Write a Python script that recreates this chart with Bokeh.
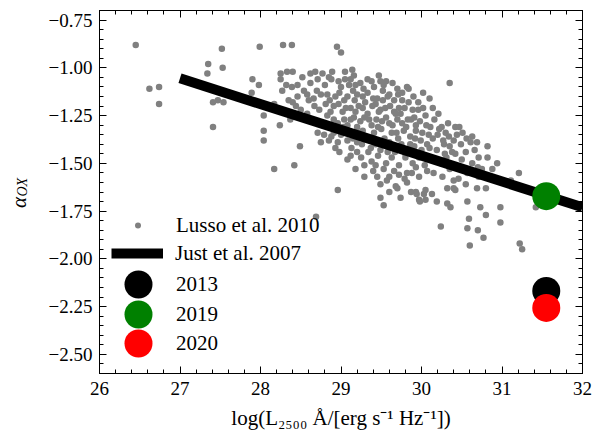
from bokeh.plotting import figure
from bokeh.models import (Range1d, FixedTicker, LinearAxis, Legend, LegendItem,
                          Label, ColumnDataSource, CustomJSTickFormatter)
from bokeh.embed import file_html
from bokeh.resources import INLINE

# ---------------- data ----------------
lusso_logL = [
    26.45, 26.62, 26.74, 26.74, 27.52, 27.35, 27.34, 27.53, 27.41, 27.47, 27.54, 27.41,
    27.99, 28.28, 28.39, 27.90, 27.98, 27.89, 28.17, 28.04, 28.24, 28.04, 28.04, 28.17,
    28.42, 28.25, 28.33, 28.40, 28.25, 28.27, 28.32, 28.39, 28.46, 28.35, 28.40, 28.46,
    28.37, 28.49, 28.95, 29.00, 28.68, 28.77, 28.89, 29.05, 29.14, 29.16, 28.52, 28.62,
    28.85, 28.88, 29.05, 29.10, 29.18, 29.28, 29.20, 29.08, 29.00, 28.54, 28.58, 28.66,
    28.75, 28.83, 28.93, 28.44, 28.50, 28.67, 28.81, 28.91, 29.02, 29.12, 29.22, 28.83,
    28.91, 29.04, 29.16, 29.24, 29.08, 28.71, 28.79, 28.91, 29.00, 29.12, 29.22, 28.75,
    28.85, 28.96, 29.08, 29.20,
    29.47, 29.38, 29.49, 29.56, 30.35, 29.82, 29.84, 30.02, 29.76, 29.58, 29.60, 29.76,
    29.45, 29.72, 29.89, 29.68, 30.05, 29.91, 29.83, 30.11, 30.20, 30.34, 30.44, 30.51,
    30.63, 30.40, 30.27, 29.39, 29.47, 29.55, 29.35, 29.51, 29.64, 29.76, 29.93, 30.01,
    30.09,
    30.49, 30.61, 30.69, 30.82, 30.28, 30.38, 30.55, 30.71, 30.82, 30.75, 30.88, 30.94,
    30.63, 30.57, 30.46, 30.55, 31.21, 31.11, 30.80, 30.69, 30.32, 30.40, 30.05, 29.93,
    29.87, 30.13, 29.74, 29.97, 30.05, 30.19, 30.32, 30.36, 30.57, 30.73, 30.98, 31.42,
    30.59, 30.80, 30.98, 30.24, 30.57, 30.70, 30.77, 30.60, 31.22, 31.25,
    29.53, 29.45, 29.57, 29.68, 29.60, 29.49, 29.82, 29.72, 29.88, 29.97, 30.07, 30.42,
    30.71, 30.50, 29.49, 28.96, 28.69, 28.93, 29.08, 29.18, 29.29, 29.20, 29.29, 29.12,
    29.70, 29.94, 29.98, 30.03, 29.66, 29.82,
    28.62, 28.71, 28.80, 28.97, 29.12, 29.24, 29.33, 29.41, 29.53, 29.64, 29.70,
    28.60, 28.70, 28.86, 28.98, 29.04, 29.15, 29.27, 29.33, 29.40, 29.52, 29.66, 29.71,
    29.90, 29.96, 30.10,
    28.58, 28.73, 28.87, 28.97, 29.06, 29.18, 29.27, 29.33, 29.43, 29.49, 29.61, 29.66,
    29.79, 29.84, 29.96, 30.14, 30.21,
    28.62, 28.77, 28.96, 29.03, 29.12, 29.20, 29.29, 29.38, 29.44, 29.56, 29.60, 29.70,
    29.81, 29.87, 29.98, 30.06, 30.16, 30.25, 30.33, 30.42,
    28.88, 29.04, 29.15, 29.27, 29.33, 29.41, 29.50, 29.54, 29.63, 29.71, 29.78, 29.86,
    29.93, 29.99, 30.14, 30.22, 30.30, 30.47, 30.56,
    28.98, 29.13, 29.26, 29.34, 29.43, 29.49, 29.59, 29.67, 29.75, 29.83, 29.91, 30.00,
    30.07, 30.19, 30.35, 30.42, 30.66,
    29.25, 29.38, 29.46, 29.56, 29.63, 29.72, 29.80, 29.89, 29.97, 30.04, 30.13, 30.24,
    30.31, 30.40, 30.70,
    29.40, 29.53, 29.60, 29.79, 29.93, 30.15, 30.26, 30.35, 30.40,
    29.23, 29.46, 29.58, 29.74, 29.86, 29.30, 29.52, 29.69, 29.92, 30.10, 29.37, 29.17,
    29.60, 29.80, 30.02, 30.29, 29.43,
]
lusso_aox = [
    -0.88, -1.11, -1.10, -1.19, -0.90, -0.98, -1.03, -1.00, -1.18, -1.17, -1.18, -1.31,
    -0.89, -0.88, -0.88, -1.06, -1.09, -1.13, -1.19, -1.25, -1.30, -1.33, -1.38, -1.53,
    -1.51, -1.03, -1.02, -1.02, -1.06, -1.12, -1.09, -1.10, -1.09, -1.17, -1.18, -1.15,
    -1.27, -1.41, -0.89, -0.92, -1.02, -1.03, -1.02, -1.02, -1.01, -1.04, -1.05, -1.03,
    -1.05, -1.06, -1.06, -1.09, -1.09, -1.11, -1.14, -1.15, -1.10, -1.12, -1.14, -1.16,
    -1.14, -1.14, -1.15, -1.20, -1.22, -1.20, -1.19, -1.20, -1.23, -1.21, -1.20, -1.25,
    -1.27, -1.27, -1.26, -1.28, -1.30, -1.34, -1.35, -1.34, -1.35, -1.34, -1.35, -1.39,
    -1.38, -1.39, -1.38, -1.39,
    -1.04, -1.07, -1.07, -1.07, -1.08, -1.10, -1.11, -1.13, -1.13, -1.15, -1.14, -1.17,
    -1.16, -1.21, -1.22, -1.24, -1.25, -1.26, -1.27, -1.31, -1.35, -1.36, -1.35, -1.34,
    -1.36, -1.38, -1.38, -1.20, -1.23, -1.21, -1.27, -1.28, -1.30, -1.29, -1.30, -1.34,
    -1.35,
    -1.40, -1.39, -1.39, -1.41, -1.40, -1.44, -1.44, -1.47, -1.47, -1.53, -1.53, -1.50,
    -1.50, -1.55, -1.58, -1.61, -1.55, -1.59, -1.63, -1.63, -1.63, -1.63, -1.64, -1.65,
    -1.65, -1.66, -1.68, -1.69, -1.69, -1.70, -1.71, -1.73, -1.70, -1.73, -1.73, -1.73,
    -1.79, -1.77, -1.81, -1.83, -1.84, -1.85, -1.89, -1.93, -1.92, -1.95,
    -1.72, -1.57, -1.59, -1.62, -1.65, -1.61, -1.60, -1.56, -1.55, -1.57, -1.54, -1.64,
    -1.57, -1.48, -1.68, -1.64, -1.78, -1.42, -1.48, -1.53, -1.57, -1.44, -1.51, -1.46,
    -1.63, -1.66, -1.70, -1.66, -1.54, -1.55,
    -1.08, -1.06, -1.09, -1.07, -1.06, -1.08, -1.06, -1.10, -1.09, -1.08, -1.11,
    -1.17, -1.12, -1.17, -1.13, -1.17, -1.12, -1.15, -1.13, -1.16, -1.12, -1.17, -1.14,
    -1.15, -1.18, -1.16,
    -1.24, -1.22, -1.23, -1.19, -1.21, -1.23, -1.21, -1.24, -1.19, -1.22, -1.20, -1.23,
    -1.21, -1.18, -1.22, -1.21, -1.24,
    -1.28, -1.30, -1.29, -1.31, -1.27, -1.31, -1.26, -1.30, -1.27, -1.26, -1.29, -1.27,
    -1.31, -1.27, -1.28, -1.30, -1.27, -1.31, -1.29, -1.31,
    -1.36, -1.33, -1.37, -1.33, -1.37, -1.34, -1.32, -1.37, -1.34, -1.37, -1.33, -1.36,
    -1.33, -1.38, -1.37, -1.32, -1.34, -1.31, -1.37,
    -1.44, -1.42, -1.40, -1.44, -1.40, -1.43, -1.41, -1.44, -1.40, -1.43, -1.41, -1.43,
    -1.40, -1.43, -1.41, -1.45, -1.43,
    -1.47, -1.49, -1.46, -1.50, -1.47, -1.51, -1.47, -1.50, -1.47, -1.51, -1.48, -1.50,
    -1.47, -1.51, -1.52,
    -1.54, -1.53, -1.57, -1.58, -1.52, -1.55, -1.57, -1.53, -1.59,
    -1.34, -1.31, -1.44, -1.24, -1.40, -1.18, -1.17, -1.34, -1.37, -1.42, -1.42, -1.17,
    -1.39, -1.45, -1.21, -1.45, -1.51,
]

just_logL = [27.0, 32.0]
just_aox = [-1.055, -1.730]

obs_labels = ["2013", "2019", "2020"]
obs_logL = [31.55, 31.55, 31.55]
obs_aox = [-2.168, -1.672, -2.257]
obs_colors = ["black", "green", "red"]

x_ticks = [26, 27, 28, 29, 30, 31, 32]
y_ticks = [-2.5, -2.25, -2.0, -1.75, -1.5, -1.25, -1.0, -0.75]

FONT = "Liberation Serif"

# ---------------- figure ----------------
p = figure(width=593, height=441, x_range=Range1d(26, 32), y_range=Range1d(-2.6, -0.7),
           output_backend="svg", toolbar_location=None,
           min_border_left=99, min_border_right=11, min_border_top=10, min_border_bottom=68)
p.grid.visible = False
p.outline_line_color = "black"
p.outline_line_width = 1
p.background_fill_color = "white"
p.border_fill_color = "white"

xt = FixedTicker(ticks=x_ticks, minor_ticks=[26 + 0.2 * i for i in range(31)])
yt = FixedTicker(ticks=y_ticks, minor_ticks=[-2.6 + 0.05 * i for i in range(39)])
yfmt = CustomJSTickFormatter(code="return (tick < 0 ? '\\u2212' : '') + Math.abs(tick).toFixed(2);")
blank = CustomJSTickFormatter(code="return '';")

def style_axis(ax, ticker):
    ax.ticker = ticker
    ax.major_tick_in = 7
    ax.major_tick_out = 0
    ax.minor_tick_in = 4
    ax.minor_tick_out = 0
    ax.axis_line_color = "black"
    ax.major_tick_line_color = "black"
    ax.minor_tick_line_color = "black"
    ax.major_label_text_font = FONT
    ax.major_label_text_color = "black"
    ax.major_label_text_font_size = "19px"

ax_bottom = p.xaxis[0]
ax_left = p.yaxis[0]
style_axis(ax_bottom, xt)
style_axis(ax_left, yt)
ax_left.formatter = yfmt
ax_bottom.major_label_standoff = 8
ax_left.major_label_standoff = 7

ax_top = LinearAxis(formatter=blank, major_label_standoff=0)
style_axis(ax_top, xt)
p.add_layout(ax_top, "above")
ax_right = LinearAxis(formatter=blank, major_label_standoff=0)
style_axis(ax_right, yt)
p.add_layout(ax_right, "right")

ax_bottom.axis_label = "log(L\u2082\u2085\u2080\u2080 \u00c5/[erg s\u207b\u00b9 Hz\u207b\u00b9])"
ax_bottom.axis_label_text_font = FONT
ax_bottom.axis_label_text_font_style = "normal"
ax_bottom.axis_label_text_font_size = "21px"
ax_bottom.axis_label_text_color = "black"
ax_bottom.axis_label_standoff = 8

# ---------------- glyphs ----------------
src = ColumnDataSource(dict(x=lusso_logL, y=lusso_aox))
r_lusso = p.scatter("x", "y", source=src, size=6.5, color="gray", line_color=None)
r_just = p.line(just_logL, just_aox, line_width=10, color="black", line_cap="butt")
r_obs = []
for lab, xx, yy, c in zip(obs_labels, obs_logL, obs_aox, obs_colors):
    r_obs.append(p.scatter([xx], [yy], size=28, color=c, line_color=None))

# ---------------- legends ----------------
def add_legend(renderer, label, gw, gh, loc, standoff):
    lg = Legend(items=[LegendItem(label=label, renderers=[renderer])],
                location=loc, glyph_width=gw, glyph_height=gh,
                label_standoff=standoff, padding=0, margin=0, spacing=0,
                border_line_color=None, background_fill_alpha=0,
                label_text_font=FONT, label_text_font_size="21px",
                label_text_color="black")
    p.add_layout(lg)

add_legend(r_lusso, "Lusso et al. 2010", 15, 30, (31, 133), 31)
add_legend(r_just, "Just et al. 2007", 52, 30, (12, 105), 12)
add_legend(r_obs[0], obs_labels[0], 70, 70, (4, 54), 3)
add_legend(r_obs[1], obs_labels[1], 70, 70, (4, 24), 3)
add_legend(r_obs[2], obs_labels[2], 70, 70, (4, -5), 3)

# ---------------- y-axis label (alpha_OX) ----------------
p.add_layout(Label(x=25.00, y=-1.734, text="\u03b1", angle=1.5708, text_font=FONT,
                   text_font_style="italic", text_font_size="21px", text_color="black",
                   text_align="left", text_baseline="alphabetic"), "left")
p.add_layout(Label(x=25.045, y=-1.674, text="OX", angle=1.5708, text_font=FONT,
                   text_font_style="italic", text_font_size="14px", text_color="black",
                   text_align="left", text_baseline="alphabetic"), "left")

open("out.html", "w").write(file_html(p, INLINE))
